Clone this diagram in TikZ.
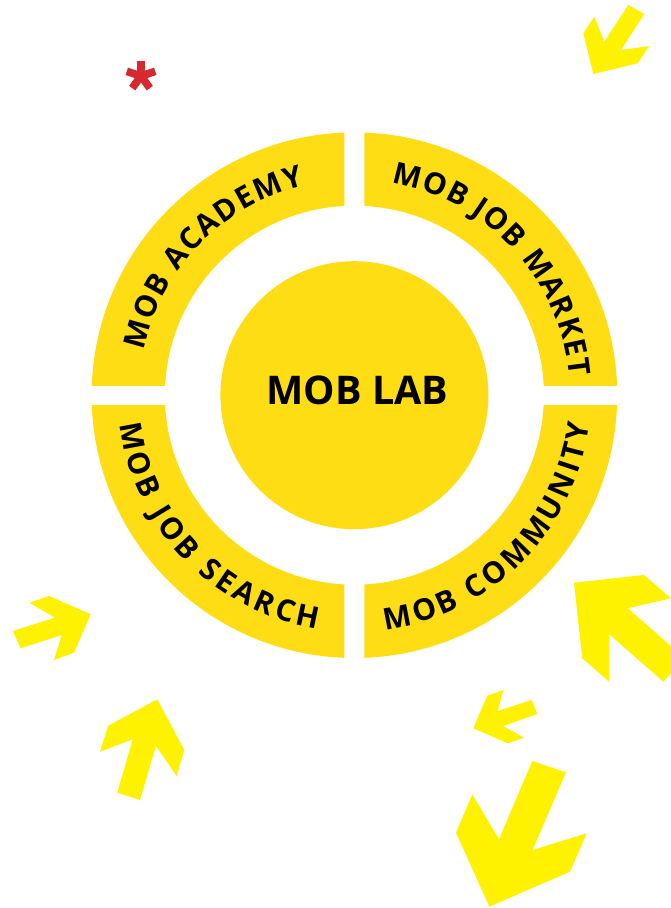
\documentclass[tikz,border=0pt]{standalone}
\usepackage{fontspec}
\setmainfont{Open Sans}
\usetikzlibrary{decorations.text}
\definecolor{ringyellow}{HTML}{FFDD15}
\definecolor{arrowyellow}{HTML}{FFF200}
\definecolor{starred}{HTML}{D6282F}
\newcommand\myringfont{\fontsize{30}{30}\selectfont\bfseries}
\tikzset{
  segment/.style={fill=ringyellow, even odd rule},
  ringlabel/.style={decorate, decoration={text along path, text={|\myringfont|#1}, text align={fit to path}}},
  arrowshape/.style={fill=arrowyellow},
  labtext/.style={inner sep=0pt, font=\fontsize{39.5}{40}\selectfont\bfseries, text=black},
  stararm/.style={draw=starred, line width=7.7pt}
}
\begin{document}
\begin{tikzpicture}[x=1pt,y=1pt]
\useasboundingbox (0,0) rectangle (671,908);
\fill[white] (0,0) rectangle (671,908);
\coordinate (c) at (354.4,512.8);
% ring segments
\foreach \sx/\sy in {-1/1,1/1,-1/-1,1/-1}{
  \begin{scope}[shift={(c)}]
    \clip (\sx*10,\sy*10) rectangle (\sx*300,\sy*300);
    \fill[segment] (0,0) circle[radius=262.8] (0,0) circle[radius=189.5];
  \end{scope}
}
% centre circle
\node[circle, fill=ringyellow, minimum size=268pt, inner sep=0pt] (lab) at (c) {};
\node[labtext] (labtitle) at (357.5,517.2) {MOB LAB};
% ring labels
\begin{scope}[shift={(c)}]
  \path[ringlabel={MOB ACADEMY}] (168:215.5) arc[start angle=168, end angle=103.4, radius=215.5];
  \path[ringlabel={MOB JOB MARKET}] (80:215.5) arc[start angle=80, end angle=5, radius=215.5];
  \path[ringlabel={MOB JOB SEARCH}] (187:236.5) arc[start angle=187, end angle=261, radius=236.5];
  \path[ringlabel={MOB COMMUNITY}] (277.5:236.5) arc[start angle=277.5, end angle=353, radius=236.5];
\end{scope}
% asterisk
\coordinate (star) at (141,832);
\foreach \a in {90,162,234,306,18}{
  \draw[stararm] (star) -- ++(\a:15);
}
\fill[starred] (star) circle[radius=4.5];
% arrows (image coordinates)
\begin{scope}[shift={(0,908)}, yscale=-1]
  \fill[arrowshape] (628.3,5) -- (644.3,14) -- (621,50) -- (649.3,46) -- (637.7,63.3) -- (593.3,74) -- (583.3,33.3) -- (594.3,16.7) -- (604.3,41.7) -- cycle;
  \fill[arrowshape] (29.3,602.7) -- (49.3,596) -- (90.7,614.3) -- (74,652.7) -- (54,660) -- (61.7,635) -- (20.7,648.3) -- (12.7,631) -- (55,617.7) -- cycle;
  \fill[arrowshape] (157.3,699.3) -- (184.3,750) -- (176.7,776) -- (156,746) -- (140,800) -- (117.3,792.7) -- (132.7,739.3) -- (100,751.7) -- (108.3,725.7) -- cycle;
  \fill[arrowshape] (574,582.7) -- (644,575) -- (671,598.3) -- (627.7,608.3) -- (671,646) -- (671,673.3) -- (663.3,681.7) -- (609,634) -- (609,681.7) -- (582.3,658.3) -- cycle;
  \fill[arrowshape] (503.3,690) -- (487.3,695.7) -- (473.3,728.3) -- (507.7,743.3) -- (524,737.7) -- (503.3,726) -- (537.3,714) -- (531.7,700) -- (497.7,711) -- cycle;
  \fill[arrowshape] (532.3,761) -- (566,772.3) -- (532.7,850) -- (586.7,833.3) -- (570,871.7) -- (489.3,906.7) -- (456,832.7) -- (472.3,794.3) -- (499,839.3) -- cycle;
\end{scope}
\end{tikzpicture}
\end{document}
